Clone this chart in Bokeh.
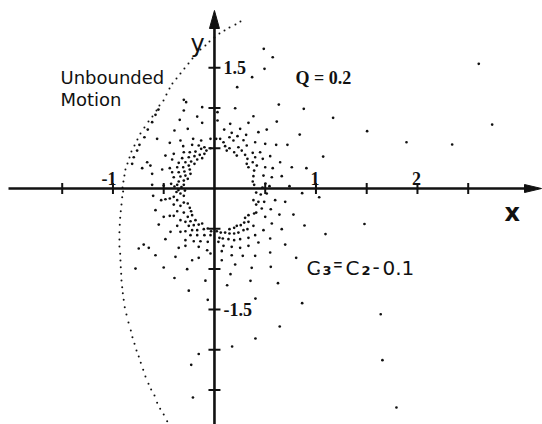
from bokeh.plotting import figure
from bokeh.models import Label
from bokeh.core.properties import value
from bokeh.embed import file_html
from bokeh.resources import INLINE

W, H = 542, 424
X0, X1 = -2.108, 3.232
Y0, Y1 = -2.928, 2.333
ux = W / (X1 - X0)   # pixels per x unit
uy = H / (Y1 - Y0)   # pixels per y unit

# Zero-velocity curve (dotted boundary of the allowed region)
zvc_x = [0.256, 0.207, 0.148, 0.099, 0.049, 0.0, -0.049, -0.089, -0.138, -0.177,
         -0.217, -0.256, -0.296, -0.335, -0.374, -0.414, -0.443, -0.473, -0.502, -0.542,
         -0.571, -0.611, -0.650, -0.690, -0.729, -0.759, -0.788, -0.818, -0.837, -0.857,
         -0.877, -0.887, -0.897, -0.906,
         -0.900, -0.909, -0.916, -0.923, -0.929, -0.933, -0.936, -0.936, -0.936, -0.929,
         -0.926, -0.923, -0.919, -0.916, -0.909, -0.903, -0.894, -0.884, -0.867, -0.847,
         -0.824, -0.808, -0.788, -0.768, -0.746, -0.726, -0.702, -0.680, -0.650, -0.624,
         -0.591, -0.565, -0.535, -0.500, -0.466]
zvc_y = [2.072, 2.035, 1.998, 1.960, 1.923, 1.873, 1.824, 1.774, 1.724, 1.663,
         1.613, 1.551, 1.489, 1.427, 1.365, 1.303, 1.241, 1.166, 1.092, 1.030,
         0.968, 0.893, 0.831, 0.757, 0.682, 0.608, 0.533, 0.459, 0.385, 0.310,
         0.236, 0.161, 0.087, 0.012,
         -0.037, -0.108, -0.199, -0.282, -0.364, -0.450, -0.542, -0.633, -0.720, -0.810,
         -0.893, -0.976, -1.058, -1.141, -1.225, -1.299, -1.381, -1.473, -1.563, -1.663,
         -1.762, -1.845, -1.927, -2.010, -2.084, -2.163, -2.249, -2.333, -2.423, -2.494,
         -2.568, -2.659, -2.733, -2.804, -2.887]

# Orbit points, upper-left quadrant
ul_x = [-0.552, -0.302, -0.581, -0.342, -0.170, -0.614, -0.657, -0.394, -0.263, -0.121,
        -0.690, -0.440, -0.335, -0.210, -0.131, -0.039, -0.739, -0.308, -0.220, -0.155,
        -0.099, -0.039, -0.762, -0.483, -0.401, -0.302, -0.243, -0.187, -0.131, -0.079,
        -0.795, -0.318, -0.253, -0.197, -0.145, -0.099, -0.663, -0.417, -0.352, -0.286,
        -0.230, -0.170, -0.121, -0.811, -0.712, -0.631, -0.515, -0.440, -0.367, -0.308,
        -0.253, -0.197, -0.614, -0.417, -0.352, -0.296, -0.243, -0.401, -0.335, -0.286,
        -0.236, -0.352, -0.302, -0.263, -0.614, -0.500, -0.427, -0.367, -0.302,
        -0.394, -0.355, -0.325, -0.291, -0.374]
ul_y = [0.980, 0.968, 0.914, 0.852, 0.893, 0.823, 0.732, 0.720, 0.741, 0.815,
        0.636, 0.567, 0.596, 0.617, 0.596, 0.617, 0.542, 0.525, 0.542, 0.534,
        0.512, 0.500, 0.471, 0.409, 0.431, 0.450, 0.450, 0.459, 0.493, 0.471,
        0.388, 0.376, 0.388, 0.401, 0.418, 0.431, 0.326, 0.360, 0.319, 0.326,
        0.335, 0.360, 0.376, 0.306, 0.252, 0.285, 0.236, 0.252, 0.264, 0.264,
        0.285, 0.306, 0.182, 0.202, 0.202, 0.211, 0.236, 0.140, 0.149, 0.161,
        0.182, 0.087, 0.099, 0.120, 0.046, 0.037, 0.058, 0.046, 0.046,
        0.025, -0.019, 0.019, -0.025, -0.043]

# Orbit points, upper-right quadrant
ur_x = [0.204, 0.030, 0.030, 0.384, 0.155, 0.335, 0.614, 0.096, 0.253, 0.515,
        0.433, 0.170, 0.017, 0.056, 0.148, 0.227, 0.312, 0.089, 0.187, 0.286,
        0.401, 0.500, 0.608, 0.719, 0.105, 0.148, 0.236, 0.318, 0.121, 0.194,
        0.269, 0.377, 0.450, 0.220, 0.302, 0.325, 0.401, 0.476, 0.549, 0.377,
        0.318, 0.417, 0.500, 0.574, 0.647, 0.762, 0.335, 0.391, 0.483, 0.565,
        0.663, 0.384, 0.377, 0.391, 0.542, 0.739]
ur_y = [0.996, 0.947, 0.844, 0.897, 0.803, 0.815, 0.831, 0.732, 0.741, 0.732,
        0.699, 0.691, 0.617, 0.617, 0.636, 0.649, 0.666, 0.574, 0.596, 0.599,
        0.574, 0.555, 0.542, 0.542, 0.525, 0.500, 0.512, 0.534, 0.471, 0.450,
        0.471, 0.443, 0.450, 0.409, 0.418, 0.368, 0.388, 0.368, 0.401, 0.326,
        0.306, 0.285, 0.264, 0.252, 0.326, 0.264, 0.264, 0.223, 0.161, 0.140,
        0.153, 0.153, 0.087, 0.046, 0.029, 0.029]

# Orbit points, lower-left quadrant
ll_x = [-0.604, -0.483, -0.525, -0.440, -0.401, -0.335, -0.302, -0.367, -0.302, -0.401,
        -0.335, -0.263, -0.581, -0.367, -0.302, -0.243, -0.230, -0.500, -0.440, -0.401,
        -0.335, -0.263, -0.220, -0.549, -0.286, -0.236, -0.187, -0.155, -0.367, -0.253,
        -0.204, -0.121, -0.066, -0.433, -0.335, -0.286, -0.220, -0.170, -0.105, -0.033,
        -0.483, -0.236, -0.170, -0.099, -0.039, -0.286, -0.204, -0.138, -0.066, -0.697,
        -0.746, -0.647, -0.352, -0.286, -0.155, -0.072, -0.581, -0.384, -0.220, -0.155,
        -0.039, -0.778, -0.500, -0.269]
ll_y = [-0.091, -0.133, -0.145, -0.124, -0.103, -0.062, -0.091, -0.145, -0.174, -0.199,
        -0.215, -0.186, -0.269, -0.282, -0.298, -0.239, -0.282, -0.351, -0.339, -0.339,
        -0.393, -0.351, -0.331, -0.447, -0.413, -0.406, -0.393, -0.447, -0.463, -0.463,
        -0.455, -0.434, -0.496, -0.537, -0.537, -0.530, -0.517, -0.517, -0.505, -0.530,
        -0.629, -0.579, -0.579, -0.579, -0.579, -0.641, -0.654, -0.654, -0.661, -0.695,
        -0.744, -0.736, -0.736, -0.711, -0.723, -0.766, -0.828, -0.847, -0.890, -0.860,
        -0.806, -0.993, -0.980, -1.001]

# Orbit points, lower-right quadrant
lr_x = [0.411, 0.456, 0.515, 0.384, 0.433, 0.490, 0.598, 0.697, 0.411, 0.411,
        0.466, 0.335, 0.302, 0.391, 0.555, 0.640, 0.778, 0.335, 0.293, 0.259,
        0.220, 0.384, 0.500, 0.565, 0.023, 0.062, 0.105, 0.148, 0.194, 0.148,
        0.194, 0.236, 0.286, 0.325, 0.483, 0.663, 0.049, 0.082, 0.138, 0.194,
        0.253, 0.335, 0.401, 0.549, 0.697, 0.039, 0.089, 0.170, 0.253, 0.335,
        0.433, 0.072, 0.170, 0.279, 0.401, 0.549, 0.805, 0.072, 0.204, 0.367,
        0.555]
lr_y = [-0.050, -0.074, -0.062, -0.145, -0.165, -0.165, -0.145, -0.165, -0.199, -0.298,
        -0.248, -0.331, -0.364, -0.310, -0.257, -0.323, -0.323, -0.413, -0.422, -0.455,
        -0.463, -0.463, -0.351, -0.434, -0.530, -0.546, -0.546, -0.505, -0.488, -0.558,
        -0.558, -0.546, -0.517, -0.505, -0.517, -0.505, -0.612, -0.620, -0.629, -0.641,
        -0.629, -0.612, -0.579, -0.620, -0.695, -0.661, -0.711, -0.723, -0.736, -0.711,
        -0.670, -0.778, -0.828, -0.835, -0.835, -0.794, -0.860, -0.890, -0.943, -0.984,
        -0.971]

# Sparse orbit points farther from the primary
far_x = [0.486, 0.574, 0.493, 0.371, 0.224, -0.302, -0.279, -0.121, -0.565,
         2.604, 0.634, 0.880, 1.169, 0.840, 1.504, 1.892, 2.342, 2.736, 1.071, 0.906, 0.473, 0.502,
         -0.394, -0.253, -0.089, -0.066, 0.125, 0.158, 0.355, 0.404, 0.404, 0.174, -0.155, -0.229, -0.212,
         0.864, 1.032, 0.887, 1.094, 1.478, 1.025, 0.626, 0.864, 1.638, 0.643, 1.655, 1.793]
far_y = [1.733, 1.629, 1.485, 1.381, 1.257, 1.100, 1.071, 1.009, 0.617,
         1.547, 1.042, 0.989, 0.877, 0.670, 0.711, 0.574, 0.546, 0.794, 0.397, 0.252, 0.012, 0.062,
         -1.110, -1.268, -1.144, -1.381, -1.200, -1.063, -1.145, -1.365, -1.861, -1.960, -2.053, -2.187, -2.593,
         -0.058, -0.108, -0.459, -0.565, -0.440, -1.020, -1.175, -1.423, -1.560, -1.712, -2.130, -2.717]

x_ticks = [-1.5, -1.0, -0.5, 0.5, 1.0, 1.5, 2.0, 2.5]
y_ticks = [1.5, 1.0, 0.5, -0.5, -1.0, -1.5, -2.0, -2.5]
x_tick_vals = [-1.0, 1.0, 2.0]
x_tick_text = ["-1", "1", "2"]
y_tick_vals = [1.5, -1.5]
y_tick_text = ["1.5", "-1.5"]

INK = "#111111"

p = figure(width=W, height=H, x_range=(X0, X1), y_range=(Y0, Y1),
           output_backend="svg", toolbar_location=None,
           x_axis_location=None, y_axis_location=None, min_border=0)
p.grid.visible = False
p.outline_line_color = None
p.background_fill_color = "white"
p.border_fill_color = "white"

# hand-drawn style coordinate axes through the origin
x_tip, y_tip = X1 - 1 / ux, Y1 - 10 / uy
x_head, y_head = 17 / ux, 18 / uy
p.segment(x0=[X0 + 8 / ux, 0], y0=[0, Y0], x1=[x_tip - x_head * 0.6, 0], y1=[0, y_tip - y_head * 0.6],
          line_color=INK, line_width=2.6)
p.patches(xs=[[x_tip, x_tip - x_head, x_tip - x_head], [0, -5 / ux, 5 / ux]],
          ys=[[0, 4 / uy, -4 / uy], [y_tip, y_tip - y_head, y_tip - y_head]],
          fill_color=INK, line_color=INK, line_width=1)

# tick marks
p.segment(x0=x_ticks, y0=[-5.5 / uy] * len(x_ticks), x1=x_ticks, y1=[5.5 / uy] * len(x_ticks),
          line_color=INK, line_width=2)
p.segment(x0=[-6 / ux] * len(y_ticks), y0=y_ticks, x1=[6 / ux] * len(y_ticks), y1=y_ticks,
          line_color=INK, line_width=2)

# tick labels
p.text(x=[v + 3.5 / ux for v in x_tick_vals], y=[10.5 / uy] * len(x_tick_vals), text=x_tick_text,
       text_font=value("Liberation Serif"), text_font_style="bold", text_font_size="18px",
       text_align="right", text_baseline="alphabetic", text_color=INK)
p.text(x=[9 / ux] * len(y_tick_vals), y=y_tick_vals, text=y_tick_text,
       text_font=value("Liberation Serif"), text_font_style="bold", text_font_size="18px",
       text_align="left", text_baseline="middle", text_color=INK)

# zero-velocity curve and orbit points
p.scatter(zvc_x, zvc_y, size=2.0, color=INK, line_width=0)
for xs, ys in [(ul_x, ul_y), (ur_x, ur_y), (ll_x, ll_y), (lr_x, lr_y), (far_x, far_y)]:
    p.scatter(xs, ys, size=2.7, color=INK, line_width=0)

def note(text, x, y, font, size, style="normal"):
    p.add_layout(Label(x=x, y=H - y, x_units="screen", y_units="screen", text=text,
                       text_font=font, text_font_size=size, text_font_style=style,
                       text_color=INK, text_baseline="alphabetic", text_align="left"))

note("Unbounded", 60, 77, "DejaVu Sans", "18px")
note("Motion", 60, 99, "DejaVu Sans", "18px")
note("Q = 0.2", 295, 77, "Liberation Serif", "18px", "bold")

# energy constant, set piece by piece so the subscripts sit low and large
note("C", 306, 267, "DejaVu Sans", "20px")
note("3", 322, 270, "DejaVu Sans", "13px", "bold")
note("=", 333, 264, "Liberation Sans", "15px", "bold")
note("C", 345, 267, "DejaVu Sans", "20px")
note("2", 361, 270, "DejaVu Sans", "13px", "bold")
note("-", 372, 266, "DejaVu Sans", "20px")
note("0.1", 382, 267, "DejaVu Sans", "20px")

note("y", 190, 43, "DejaVu Sans", "24px")
note("x", 504, 212, "DejaVu Sans", "24px", "bold")

open("out.html", "w").write(file_html(p, INLINE))
